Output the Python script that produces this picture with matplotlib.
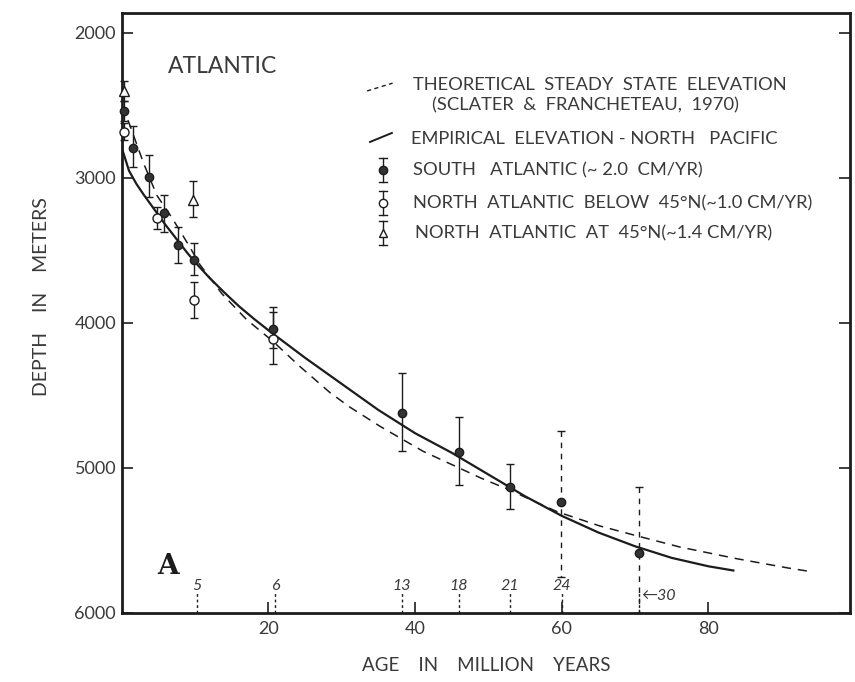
import matplotlib.pyplot as plt

plt.rcParams['font.family'] = ['Lato', 'DejaVu Sans']

# empirical North Pacific elevation curve (age Myr, depth m)
emp_age = [0, 1, 2, 3, 4, 5, 6, 7, 8, 9, 10, 12, 14, 16, 18, 20, 25, 30,
           35, 40, 45, 50, 55, 60, 65, 70, 75, 80, 83.4]
emp_depth = [2790, 2950, 3040, 3115, 3185, 3255, 3325, 3390, 3455, 3520,
             3580, 3690, 3790, 3885, 3970, 4050, 4240, 4420, 4600, 4760,
             4895, 5045, 5195, 5330, 5445, 5540, 5620, 5678, 5707]

# theoretical steady state elevation (Sclater & Francheteau, 1970)
theo_age = [0, 1, 2, 3, 4.8, 6.8, 9.1, 10.7, 13.7, 17, 20.7, 24.3, 28.4,
            31.1, 35.3, 41.1, 49, 52.8, 59.3, 65.2, 70.4, 76.1, 83.9,
            90.9, 94]
theo_depth = [2500, 2620, 2760, 2900, 3120, 3270, 3460, 3600, 3800, 3975,
              4130, 4300, 4480, 4580, 4715, 4885, 5070, 5150, 5300, 5400,
              5470, 5545, 5626, 5690, 5715]

# South Atlantic (~2.0 cm/yr)
south_age = [0.3, 1.5, 3.7, 5.8, 7.7, 9.8, 20.6, 38.2, 46.0, 52.9, 59.9, 70.5]
south_depth = [2540, 2790, 2995, 3240, 3462, 3566, 4042, 4624, 4890, 5131,
               5237, 5584]
south_top = [2470, 2645, 2840, 3117, 3338, 3450, 3892, 4348, 4648, 4974,
             4747, 5131]
south_bot = [2610, 2921, 3128, 3370, 3586, 3669, 4175, 4885, 5120, 5280,
             5753, 6000]

# North Atlantic below 45N (~1.0 cm/yr)
north_age = [0.3, 4.8, 9.8, 20.6]
north_depth = [2680, 3278, 3842, 4113]
north_top = [2620, 3197, 3720, 3922]
north_bot = [2740, 3354, 3968, 4284]

# North Atlantic at 45N (~1.4 cm/yr)
n45_age = [0.3, 9.7]
n45_depth = [2400, 3151]
n45_top = [2330, 3020]
n45_bot = [2470, 3266]

# magnetic anomaly positions
anom_age = [10.3, 20.9, 38.2, 46.0, 52.9, 60.0, 70.5]
anom_label = ['5', '6', '13', '18', '21', '24', '30']

INK = '#1c1c1c'
TXT = '#3a3a3a'


def errs(depth, top, bot):
    return [[d - t for d, t in zip(depth, top)],
            [b - d for d, b in zip(depth, bot)]]


fig = plt.figure(figsize=(8.55, 6.82), dpi=100)
ax = fig.add_axes([0.1423, 0.1012, 0.8518, 0.8798])

ax.plot(emp_age, emp_depth, color=INK, lw=1.6, zorder=3)
ax.plot(theo_age, theo_depth, color=INK, lw=1.1, dashes=(6, 4.5), zorder=3)

ebkw = dict(color=INK, ecolor=INK, elinewidth=1.0, capsize=3, capthick=1.0,
            clip_on=False, zorder=4)
ax.errorbar(south_age[:10], south_depth[:10],
            yerr=errs(south_depth[:10], south_top[:10], south_bot[:10]),
            fmt='o', ms=6, mfc='#333333', mec=INK, **ebkw)
eb = ax.errorbar(south_age[10:], south_depth[10:],
                 yerr=errs(south_depth[10:], south_top[10:], south_bot[10:]),
                 fmt='o', ms=6, mfc='#333333', mec=INK, **ebkw)
eb[2][0].set_linestyle((0, (4, 4)))
ax.errorbar(north_age, north_depth,
            yerr=errs(north_depth, north_top, north_bot),
            fmt='o', ms=6.5, mfc='white', mec=INK, mew=1.0, **ebkw)
ax.errorbar(n45_age, n45_depth, yerr=errs(n45_depth, n45_top, n45_bot),
            fmt='^', ms=6.5, mfc='white', mec=INK, mew=1.0, **ebkw)

# anomaly markers along the bottom
for a, lab in zip(anom_age, anom_label):
    ax.plot([a, a], [6000, 5855], color=INK, lw=1.0, ls=(0, (2, 2)), zorder=2)
    if lab == '30':
        ax.text(a + 0.3, 5880, '\u219030', fontsize=11.5, style='italic',
                color=TXT, ha='left', va='center')
    else:
        ax.text(a, 5815, lab, fontsize=11.5, style='italic', color=TXT,
                ha='center', va='center')

ax.set_xlim(0, 99.3)
ax.set_ylim(6000, 1862)
ax.set_xticks([20, 40, 60, 80])
ax.set_yticks([2000, 3000, 4000, 5000, 6000])
ax.tick_params(direction='in', length=8, width=1.2, colors=INK,
               labelcolor=TXT, labelsize=13, right=True, pad=4)
ax.tick_params(axis='x', pad=6)
for s in ax.spines.values():
    s.set_linewidth(2.0)
    s.set_color(INK)

ax.set_xlabel('AGE    IN    MILLION    YEARS', fontsize=13.5, color=TXT,
              labelpad=14)
ax.set_ylabel('DEPTH    IN    METERS', fontsize=14, color=TXT)
ax.yaxis.set_label_coords(-0.098, 0.527)

ax.text(0.064, 0.91, 'ATLANTIC', transform=ax.transAxes, fontsize=16.5,
        color=TXT, va='center')
ax.text(0.064, 0.077, 'A', transform=ax.transAxes, fontsize=20,
        family='DejaVu Serif', weight='bold', color=INK, ha='center',
        va='center')

# hand-drawn style key
tx = ax.transAxes
ax.plot([0.337, 0.372], [0.870, 0.883], transform=tx, color=INK, lw=1.0,
        dashes=(3, 2.5))
ax.plot([0.341, 0.371], [0.785, 0.800], transform=tx, color=INK, lw=1.4)
key_rows = [(0.738, 'o', '#333333'), (0.683, 'o', 'white'),
            (0.633, '^', 'white')]
for yk, mk, fc in key_rows:
    ax.plot([0.359, 0.359], [yk - 0.02, yk + 0.02], transform=tx, color=INK,
            lw=1.0)
    for yc in (yk - 0.02, yk + 0.02):
        ax.plot([0.354, 0.364], [yc, yc], transform=tx, color=INK, lw=1.0)
    ax.plot([0.359], [yk], transform=tx, marker=mk, ms=6, mfc=fc, mec=INK,
            ls='none')

key_text = [
    (0.400, 0.880, 'THEORETICAL  STEADY  STATE  ELEVATION'),
    (0.4257, 0.8455, '(SCLATER  &  FRANCHETEAU,  1970)'),
    (0.397, 0.790, 'EMPIRICAL  ELEVATION - NORTH   PACIFIC'),
    (0.400, 0.738, 'SOUTH   ATLANTIC (~ 2.0  CM/YR)'),
    (0.400, 0.683, 'NORTH  ATLANTIC  BELOW  45\u00b0N(~1.0 CM/YR)'),
    (0.4027, 0.633, 'NORTH  ATLANTIC  AT  45\u00b0N(~1.4 CM/YR)'),
]
for xk, yk, s in key_text:
    ax.text(xk, yk, s, transform=tx, fontsize=13.2, color=TXT, va='center')

fig.savefig('out.png', dpi=100, facecolor='white')
